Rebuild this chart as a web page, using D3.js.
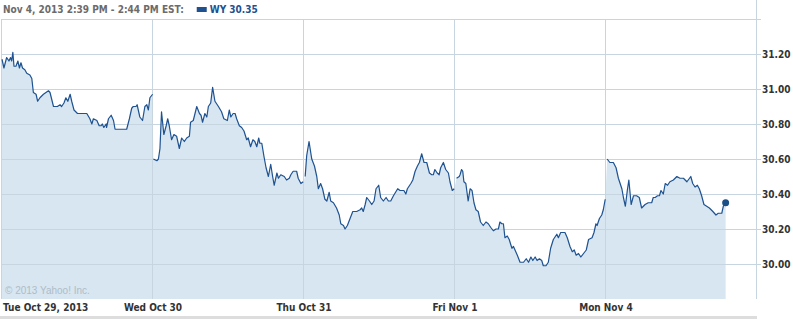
<!DOCTYPE html>
<html>
<head>
<meta charset="utf-8">
<script src="https://cdn.jsdelivr.net/npm/d3@7"></script>
<style>
  html, body { margin: 0; padding: 0; background: #fff; }
  svg { display: block; }
  .lbl { font-family: "DejaVu Sans Condensed", "DejaVu Sans", sans-serif; font-weight: bold; font-size: 10px; }
</style>
</head>
<body>
<svg id="chart" width="793" height="319"></svg>
<script>
// session labels and minutes since the 9:30 open, with WY price
const dayLabels = ['Tue Oct 29, 2013', 'Wed Oct 30', 'Thu Oct 31', 'Fri Nov 1', 'Mon Nov 4'];
const yTicks = [30.00, 30.20, 30.40, 30.60, 30.80, 31.00, 31.20];
const headerText = 'Nov 4, 2013 2:39 PM - 2:44 PM EST:';
const symbol = 'WY';
const lastPrice = 30.35;

const oct29 = [[0,31.17],[5,31.12],[12,31.18],[18,31.16],[22,31.18],[25,31.16],[28,31.21],[31,31.13],[36,31.13],[41,31.16],[45,31.12],[49,31.15],[53,31.12],[59,31.11],[64,31.09],[72,31.08],[77,31.06],[81,30.98],[88,30.97],[92,30.93],[98,30.95],[107,30.97],[120,30.99],[124,30.98],[133,30.90],[143,30.90],[150,30.91],[154,30.90],[160,30.92],[165,30.95],[170,30.93],[176,30.97],[180,30.93],[186,30.88],[195,30.86],[219,30.86],[227,30.83],[232,30.80],[236,30.83],[245,30.82],[251,30.79],[256,30.79],[259,30.80],[263,30.78],[269,30.80],[270,30.78],[275,30.83],[282,30.85],[288,30.82],[292,30.77],[322,30.77],[329,30.83],[335,30.89],[339,30.90],[346,30.90],[349,30.91],[356,30.84],[363,30.82],[369,30.90],[374,30.91],[378,30.88],[382,30.95],[389,30.97]];
const oct30 = [[1,30.60],[10,30.59],[14,30.60],[18,30.66],[22,30.87],[28,30.74],[34,30.79],[38,30.83],[42,30.79],[48,30.71],[54,30.74],[61,30.73],[68,30.66],[74,30.72],[81,30.70],[87,30.72],[94,30.73],[97,30.81],[104,30.82],[113,30.90],[120,30.86],[124,30.85],[128,30.81],[134,30.86],[139,30.84],[143,30.90],[149,30.92],[154,31.01],[160,30.93],[169,30.90],[177,30.87],[183,30.83],[192,30.82],[197,30.88],[201,30.84],[207,30.86],[212,30.86],[216,30.83],[223,30.79],[229,30.78],[235,30.76],[242,30.71],[246,30.72],[252,30.67],[258,30.71],[263,30.70],[268,30.67],[273,30.72],[276,30.69],[281,30.69],[287,30.61],[292,30.55],[298,30.50],[304,30.57],[309,30.50],[313,30.45],[320,30.52],[324,30.49],[330,30.51],[339,30.50],[345,30.48],[352,30.49],[356,30.51],[362,30.53],[371,30.53],[375,30.49],[382,30.46],[388,30.47]];
const oct31 = [[3,30.50],[7,30.62],[13,30.70],[20,30.60],[27,30.56],[33,30.50],[37,30.43],[43,30.46],[48,30.43],[54,30.37],[59,30.36],[65,30.41],[69,30.36],[76,30.35],[84,30.32],[91,30.28],[95,30.23],[102,30.22],[106,30.20],[112,30.22],[119,30.26],[126,30.30],[136,30.30],[145,30.31],[149,30.32],[153,30.30],[158,30.34],[162,30.38],[169,30.36],[175,30.34],[181,30.36],[186,30.43],[193,30.45],[198,30.38],[205,30.36],[212,30.38],[218,30.36],[224,30.36],[231,30.39],[242,30.43],[248,30.42],[258,30.42],[263,30.40],[267,30.43],[276,30.46],[281,30.48],[287,30.53],[293,30.56],[298,30.58],[304,30.63],[310,30.58],[317,30.58],[324,30.52],[330,30.51],[334,30.51],[338,30.54],[344,30.52],[349,30.51],[353,30.55],[360,30.58],[366,30.54],[373,30.52],[377,30.47],[383,30.42],[388,30.43]];
const nov1 = [[4,30.49],[11,30.50],[13,30.51],[17,30.54],[20,30.53],[23,30.47],[28,30.46],[34,30.36],[39,30.43],[44,30.42],[49,30.35],[54,30.31],[60,30.30],[66,30.24],[73,30.22],[80,30.24],[86,30.23],[92,30.21],[99,30.19],[106,30.20],[112,30.20],[116,30.24],[121,30.23],[125,30.23],[129,30.15],[135,30.16],[140,30.14],[147,30.09],[151,30.10],[155,30.08],[161,30.05],[168,30.01],[177,30.01],[184,30.03],[190,30.01],[196,30.04],[201,30.02],[207,30.04],[212,30.02],[218,30.03],[224,30.02],[228,29.99],[235,29.99],[241,30.01],[247,30.09],[254,30.14],[263,30.17],[267,30.15],[273,30.18],[278,30.18],[284,30.18],[290,30.15],[297,30.10],[303,30.07],[308,30.08],[313,30.05],[319,30.06],[325,30.04],[332,30.06],[339,30.08],[345,30.14],[354,30.15],[359,30.18],[364,30.23],[367,30.22],[373,30.26],[379,30.28],[383,30.31],[388,30.37]];
const nov4 = [[3,30.60],[10,30.58],[19,30.58],[26,30.55],[32,30.49],[41,30.43],[45,30.38],[50,30.33],[55,30.42],[59,30.48],[65,30.34],[71,30.39],[79,30.39],[86,30.38],[92,30.32],[101,30.34],[109,30.35],[118,30.35],[122,30.38],[127,30.38],[133,30.39],[138,30.39],[142,30.42],[148,30.40],[153,30.46],[159,30.45],[165,30.47],[174,30.48],[183,30.50],[191,30.49],[200,30.49],[209,30.47],[219,30.50],[224,30.46],[230,30.44],[236,30.45],[241,30.43],[247,30.39],[253,30.34],[260,30.33],[267,30.32],[276,30.30],[284,30.28],[290,30.29],[299,30.29],[303,30.33],[309,30.35]];

const sessions = [oct29, oct30, oct31, nov1, nov4];
const sessionLen = 390;

const plot = { left: 2, right: 757, top: 19, bottom: 299 };

const svg = d3.select('#chart');

const x = d3.scaleLinear().domain([0, sessionLen * sessions.length]).range([plot.left, plot.right]);
const y = d3.scaleLinear().domain([29.80, 31.40]).range([plot.bottom, plot.top]);

const pts = sessions.map((s, i) => s.map(([m, v]) => ({ t: i * sessionLen + m, v })));
const all = pts.flat();

// fill under the price
svg.append('path')
    .datum(all)
    .attr('fill', '#d7e6f1')
    .attr('d', d3.area().x(d => x(d.t)).y0(plot.bottom).y1(d => y(d.v)));

// grid
const grid = svg.append('g').attr('stroke', '#c7d5e0').attr('stroke-width', 1);
grid.selectAll('line.h')
    .data(yTicks.concat([31.40]))
    .join('line')
    .attr('x1', plot.left).attr('x2', plot.right + 4)
    .attr('y1', d => Math.round(y(d)) + 0.5).attr('y2', d => Math.round(y(d)) + 0.5);
grid.selectAll('line.v')
    .data(d3.range(sessions.length + 1))
    .join('line')
    .attr('x1', d => Math.round(x(d * sessionLen)) - 0.5)
    .attr('x2', d => Math.round(x(d * sessionLen)) - 0.5)
    .attr('y1', d => d === sessions.length ? 0 : plot.top)
    .attr('y2', plot.bottom);

// price line, one piece per session
const line = d3.line().x(d => x(d.t)).y(d => y(d.v));
svg.append('g').selectAll('path')
    .data(pts)
    .join('path')
    .attr('fill', 'none')
    .attr('stroke', '#1e5290')
    .attr('stroke-width', 1.2)
    .attr('stroke-linejoin', 'round')
    .attr('d', line);

const last = all[all.length - 1];
svg.append('circle')
    .attr('cx', x(last.t)).attr('cy', y(last.v)).attr('r', 3.5)
    .attr('fill', '#1b4f87');

// y labels
svg.append('g').selectAll('text')
    .data(yTicks)
    .join('text')
    .attr('class', 'lbl')
    .attr('x', 762)
    .attr('y', d => y(d))
    .attr('dy', '0.35em')
    .attr('fill', '#333')
    .text(d => d.toFixed(2));

// x labels
svg.append('g').selectAll('text')
    .data(dayLabels)
    .join('text')
    .attr('class', 'lbl')
    .attr('x', (d, i) => i === 0 ? 3 : x(i * sessionLen))
    .attr('y', 311)
    .attr('text-anchor', (d, i) => i === 0 ? 'start' : 'middle')
    .attr('fill', '#333')
    .text(d => d);

svg.append('text')
    .attr('x', 5).attr('y', 294)
    .attr('font-family', 'Arial, "Liberation Sans", sans-serif')
    .attr('font-size', 10)
    .attr('fill', '#afbcc7')
    .text('\u00a9 2013 Yahoo! Inc.');

svg.append('rect')
    .attr('x', 0).attr('y', 316).attr('width', plot.right).attr('height', 3)
    .attr('fill', '#dddddd');

// header
const head = svg.append('text')
    .attr('class', 'lbl')
    .attr('x', 3).attr('y', 13)
    .attr('fill', '#6b6b6b')
    .text(headerText);
const hend = 3 + head.node().getComputedTextLength();
svg.append('rect')
    .attr('x', hend + 13).attr('y', 7).attr('width', 10).attr('height', 5)
    .attr('fill', '#1f5190');
svg.append('text')
    .attr('class', 'lbl')
    .attr('x', hend + 26).attr('y', 13)
    .attr('fill', '#1f5190')
    .text(symbol + ' ' + lastPrice.toFixed(2));
</script>
</body>
</html>
